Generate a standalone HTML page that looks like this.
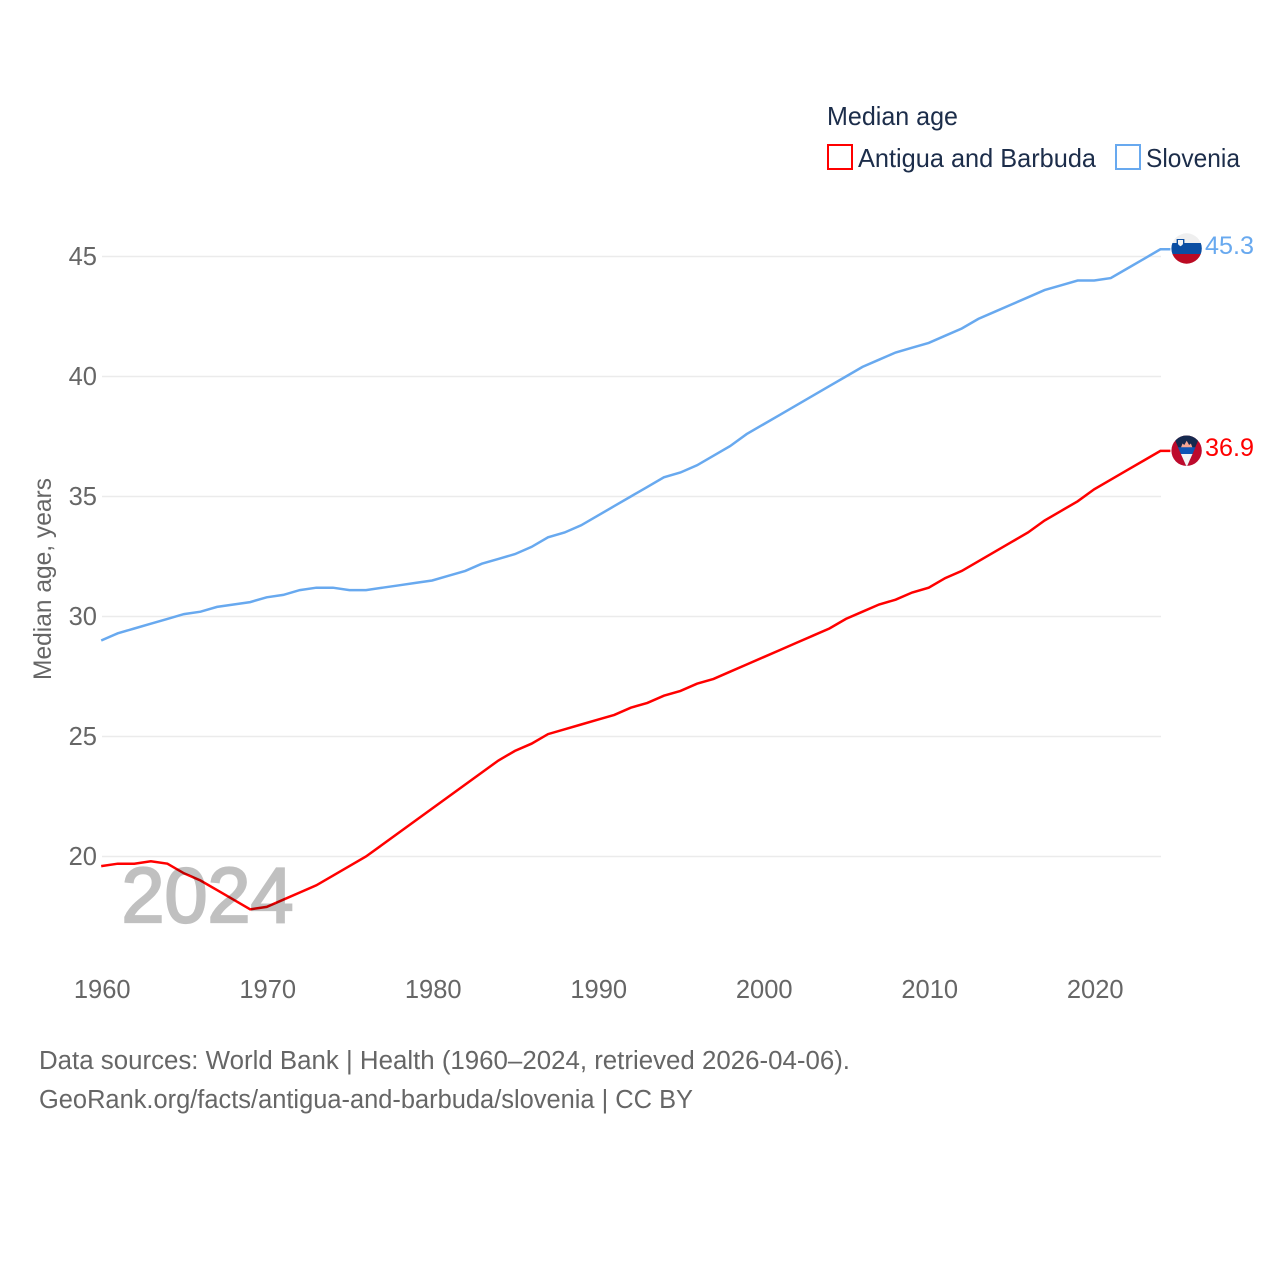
<!DOCTYPE html>
<html lang="en">
<head>
<meta charset="utf-8">
<title>Median age: Antigua and Barbuda vs Slovenia</title>
<style>
html,body{margin:0;padding:0;background:#fff;}
svg{display:block;}
text{font-family:"Liberation Sans",Arial,sans-serif;}
</style>
</head>
<body>
<svg id="chart" xmlns="http://www.w3.org/2000/svg" width="1280" height="1280" viewBox="0 0 1280 1280">
  <defs>
    <clipPath id="clip-si"><circle cx="1186.6" cy="248.5" r="15.2"/></clipPath>
    <clipPath id="clip-ag"><circle cx="1186.6" cy="450.7" r="15.2"/></clipPath>
  </defs>
  <rect x="0" y="0" width="1280" height="1280" fill="#fff"/>

  <g id="grid"></g>
  <g id="yticks"></g>
  <g id="xticks"></g>

  <text transform="translate(51,680) rotate(-90)" font-size="25" fill="#666" textLength="202" lengthAdjust="spacingAndGlyphs">Median age, years</text>

  <g id="series"></g>

  <text x="121.5" y="922" font-size="78" fill="#c0c0c0" stroke="#c0c0c0" stroke-width="2.2" style="mix-blend-mode:multiply" textLength="172" lengthAdjust="spacingAndGlyphs">2024</text>

  <g clip-path="url(#clip-si)">
    <rect x="1170" y="232" width="34" height="11.5" fill="#efefef"/>
    <rect x="1170" y="243" width="34" height="11" fill="#0b4ea2"/>
    <rect x="1170" y="254" width="34" height="12" fill="#bb0a23"/>
    <path d="M1176.6 239h7.8v4.5q0 2.9-3.9 4.4q-3.9-1.5-3.9-4.4z" fill="#0b4ea2"/>
    <path d="M1178 240h5v3.3q0 1.8-2.5 2.9q-2.5-1.1-2.5-2.9z" fill="#f4f4f4"/>
  </g>
  <g clip-path="url(#clip-ag)">
    <rect x="1170" y="434" width="34" height="34" fill="#bd0a2c"/>
    <polygon points="1172,433 1201.4,433 1186.7,467" fill="#16294f"/>
    <polygon points="1181,447.5 1182.5,443.5 1184.3,445 1186.7,440.8 1189.1,445 1190.9,443.5 1192.4,447.5" fill="#f6a593"/>
    <polygon points="1178,447.3 1195.4,447.3 1192.5,454 1180.9,454" fill="#0f55b5"/>
    <polygon points="1180.9,454 1192.5,454 1186.7,467" fill="#f5f5f5"/>
  </g>

  <text x="1205" y="254" font-size="25" fill="#68a9ef" textLength="49" lengthAdjust="spacingAndGlyphs">45.3</text>
  <text x="1205" y="456" font-size="25" fill="#ff0000" textLength="49" lengthAdjust="spacingAndGlyphs">36.9</text>

  <g>
    <text x="827" y="125" font-size="26" fill="#1c2d4a" textLength="131" lengthAdjust="spacingAndGlyphs">Median age</text>
    <rect x="828" y="145" width="24" height="24" fill="#fff" stroke="#ff0000" stroke-width="2"/>
    <text x="858" y="167" font-size="26" fill="#1c2d4a" textLength="238" lengthAdjust="spacingAndGlyphs">Antigua and Barbuda</text>
    <rect x="1116" y="145" width="24" height="24" fill="#fff" stroke="#68a9ef" stroke-width="2"/>
    <text x="1146" y="167" font-size="26" fill="#1c2d4a" textLength="94" lengthAdjust="spacingAndGlyphs">Slovenia</text>
  </g>

  <text x="39" y="1069" font-size="25.5" fill="#666" textLength="811" lengthAdjust="spacingAndGlyphs">Data sources: World Bank | Health (1960–2024, retrieved 2026-04-06).</text>
  <text x="39" y="1108" font-size="25.5" fill="#666" textLength="654" lengthAdjust="spacingAndGlyphs">GeoRank.org/facts/antigua-and-barbuda/slovenia | CC BY</text>
</svg>
<script>
const startYear = 1960;
const yTickValues = [20, 25, 30, 35, 40, 45];
const xTickValues = [1960, 1970, 1980, 1990, 2000, 2010, 2020];
const antiguaValues = [19.6,19.7,19.7,19.8,19.7,19.3,19.0,18.6,18.2,17.8,17.9,18.2,18.5,18.8,19.2,19.6,20.0,20.5,21.0,21.5,22.0,22.5,23.0,23.5,24.0,24.4,24.7,25.1,25.3,25.5,25.7,25.9,26.2,26.4,26.7,26.9,27.2,27.4,27.7,28.0,28.3,28.6,28.9,29.2,29.5,29.9,30.2,30.5,30.7,31.0,31.2,31.6,31.9,32.3,32.7,33.1,33.5,34.0,34.4,34.8,35.3,35.7,36.1,36.5,36.9];
const sloveniaValues = [29.0,29.3,29.5,29.7,29.9,30.1,30.2,30.4,30.5,30.6,30.8,30.9,31.1,31.2,31.2,31.1,31.1,31.2,31.3,31.4,31.5,31.7,31.9,32.2,32.4,32.6,32.9,33.3,33.5,33.8,34.2,34.6,35.0,35.4,35.8,36.0,36.3,36.7,37.1,37.6,38.0,38.4,38.8,39.2,39.6,40.0,40.4,40.7,41.0,41.2,41.4,41.7,42.0,42.4,42.7,43.0,43.3,43.6,43.8,44.0,44.0,44.1,44.5,44.9,45.3];

const NS = 'http://www.w3.org/2000/svg';
const xScale = function (year) { return 101.2 + (year - 1960) * 16.55; };
const yScale = function (value) { return 856.5 - (value - 20) * 24; };

const gridGroup = document.getElementById('grid');
const yGroup = document.getElementById('yticks');
const xGroup = document.getElementById('xticks');
const seriesGroup = document.getElementById('series');

yTickValues.forEach(function (v) {
  const line = document.createElementNS(NS, 'line');
  
  
  line.setAttribute('x1', 102);
  line.setAttribute('x2', 1161);
  line.setAttribute('y1', yScale(v));
  line.setAttribute('y2', yScale(v));
  line.setAttribute('stroke', '#ebebeb');
  line.setAttribute('stroke-width', '1.5');
  gridGroup.appendChild(line);

  const label = document.createElementNS(NS, 'text');
  
  
  label.setAttribute('x', 97);
  label.setAttribute('y', yScale(v) + 8.5);
  label.setAttribute('text-anchor', 'end');
  label.setAttribute('font-size', '25.5');
  label.setAttribute('fill', '#666');
  label.textContent = String(v);
  yGroup.appendChild(label);
});

xTickValues.forEach(function (year) {
  const label = document.createElementNS(NS, 'text');
  
  
  label.setAttribute('x', xScale(year) + 1);
  label.setAttribute('y', 998);
  label.setAttribute('text-anchor', 'middle');
  label.setAttribute('font-size', '25.5');
  label.setAttribute('fill', '#666');
  label.textContent = String(year);
  xGroup.appendChild(label);
});

function linePath(values) {
  const parts = values.map(function (v, i) {
    return (i === 0 ? 'M' : 'L') + xScale(startYear + i).toFixed(2) + ' ' + yScale(v).toFixed(2);
  });
  const last = values[values.length - 1];
  parts.push('L' + (xScale(startYear + values.length - 1) + 10).toFixed(2) + ' ' + yScale(last).toFixed(2));
  return parts.join(' ');
}

const sloveniaLine = document.createElementNS(NS, 'path');


sloveniaLine.setAttribute('d', linePath(sloveniaValues));
sloveniaLine.setAttribute('fill', 'none');
sloveniaLine.setAttribute('stroke', '#68a9ef');
sloveniaLine.setAttribute('stroke-width', '2.5');
seriesGroup.appendChild(sloveniaLine);

const antiguaLine = document.createElementNS(NS, 'path');


antiguaLine.setAttribute('d', linePath(antiguaValues));
antiguaLine.setAttribute('fill', 'none');
antiguaLine.setAttribute('stroke', '#ff0000');
antiguaLine.setAttribute('stroke-width', '2.5');
seriesGroup.appendChild(antiguaLine);
</script>
</body>
</html>
